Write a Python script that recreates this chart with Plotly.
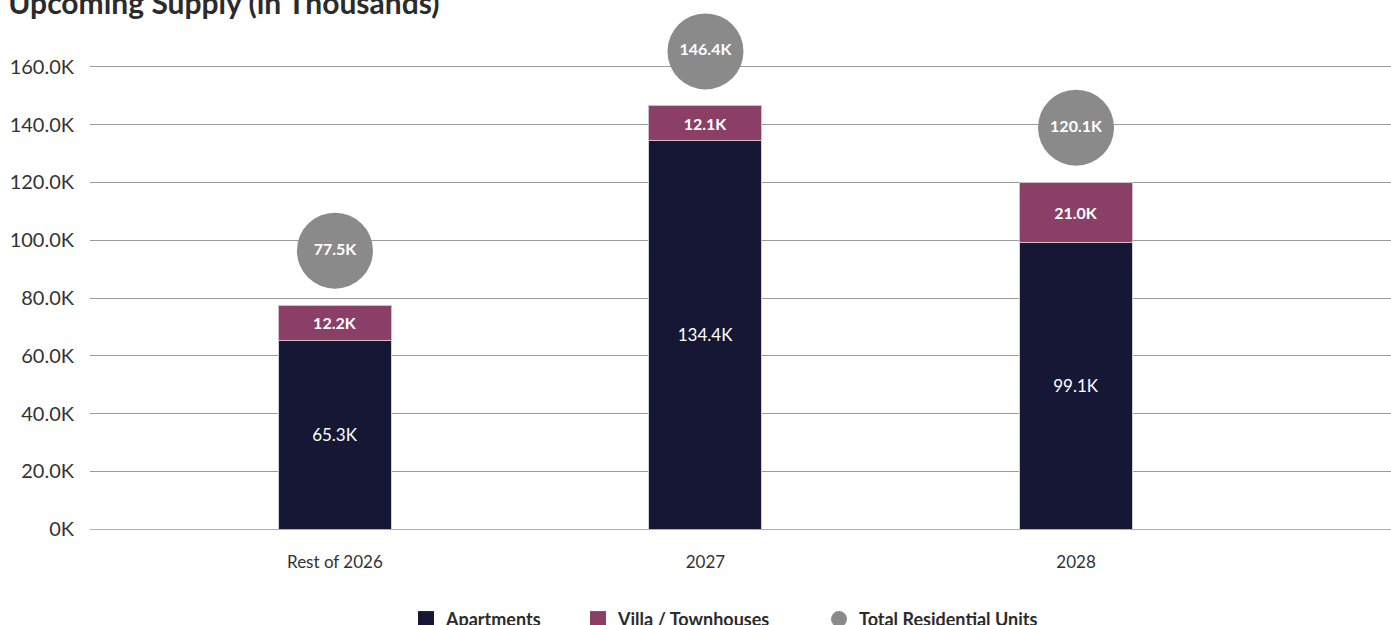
import plotly.graph_objects as go

categories = ["Rest of 2026", "2027", "2028"]
apartments = [65.3, 134.4, 99.1]
villas = [12.2, 12.1, 21.0]
totals = [77.5, 146.4, 120.1]
y_tick_vals = [0, 20, 40, 60, 80, 100, 120, 140, 160]
y_tick_text = ["0K", "20.0K", "40.0K", "60.0K", "80.0K", "100.0K", "120.0K", "140.0K", "160.0K"]
series_names = ["Apartments", "Villa / Townhouses", "Total Residential Units"]

FONT = "Lato"
NAVY = "#161734"
PLUM = "#8b3f67"
GREY = "#8b8a8b"
CIRCLE_OFFSET = 18.9  # gap above bar top, in axis units

bar_tops = [a + v for a, v in zip(apartments, villas)]

fig = go.Figure()
fig.add_trace(go.Bar(
    name=series_names[0], x=categories, y=apartments,
    marker=dict(color=NAVY, line=dict(color="#d0d0d8", width=1)),
    width=0.305,
    text=[f"{v:.1f}K" for v in apartments], textposition="inside",
    insidetextanchor="middle",
    textfont=dict(family=FONT, size=17, color="white"),
    hoverinfo="skip", showlegend=False,
))
fig.add_trace(go.Bar(
    name=series_names[1], x=categories, y=villas,
    marker=dict(color=PLUM, line=dict(color="#d0c0c8", width=1)),
    width=0.305,
    text=[f"{v:.1f}K" for v in villas], textposition="inside",
    insidetextanchor="middle",
    textfont=dict(family=FONT, size=16, color="white", weight="bold"),
    hoverinfo="skip", showlegend=False,
))
fig.add_trace(go.Scatter(
    name=series_names[2], x=categories,
    y=[t + CIRCLE_OFFSET for t in bar_tops],
    mode="markers+text",
    marker=dict(color=GREY, size=76),
    text=[f"{t:.1f}K" for t in totals], textposition="middle center",
    textfont=dict(family=FONT, size=16, color="white", weight="bold"),
    cliponaxis=False, hoverinfo="skip", legend="legend3",
))
# legend-only entries with larger square swatches
fig.add_trace(go.Scatter(
    name=series_names[0], x=[None], y=[None], mode="markers",
    marker=dict(color=NAVY, size=16, symbol="square"), legend="legend",
))
fig.add_trace(go.Scatter(
    name=series_names[1], x=[None], y=[None], mode="markers",
    marker=dict(color=PLUM, size=16, symbol="square"), legend="legend2",
))

legend_common = dict(
    orientation="h", xanchor="left", xref="container",
    y=0.009, yanchor="middle", yref="container",
    font=dict(family=FONT, size=18, color="#2b2b2b", weight="bold"),
    itemsizing="trace", bgcolor="rgba(0,0,0,0)",
)

fig.update_layout(
    width=1391, height=625,
    barmode="stack",
    paper_bgcolor="white", plot_bgcolor="white",
    margin=dict(l=90, r=0, t=0, b=96),
    font=dict(family=FONT, color="#333333"),
    title=dict(
        text="<b>Upcoming Supply (in Thousands)</b>",
        font=dict(family=FONT, size=30, color="#2b2b2b"),
        x=0.006, xanchor="left", xref="container",
        y=0.994, yanchor="middle", yref="container",
    ),
    xaxis=dict(
        range=[-0.661, 2.85], showgrid=False, zeroline=False, showline=False,
        ticks="", tickfont=dict(family=FONT, size=17, color="#333333"),
        ticklabelstandoff=21,
    ),
    yaxis=dict(
        range=[0, 183.2], tickvals=y_tick_vals, ticktext=y_tick_text,
        showgrid=True, gridcolor="#9a9a9a", gridwidth=1,
        zeroline=True, zerolinecolor="#b0b0b0", zerolinewidth=1,
        showline=False, ticks="",
        tickfont=dict(family=FONT, size=20, color="#333333"),
        ticklabelstandoff=15,
    ),
    legend=dict(x=406 / 1391, **legend_common),
    legend2=dict(x=578 / 1391, **legend_common),
    legend3=dict(x=819 / 1391, **legend_common),
    showlegend=True,
)

fig.write_html("out.html")
